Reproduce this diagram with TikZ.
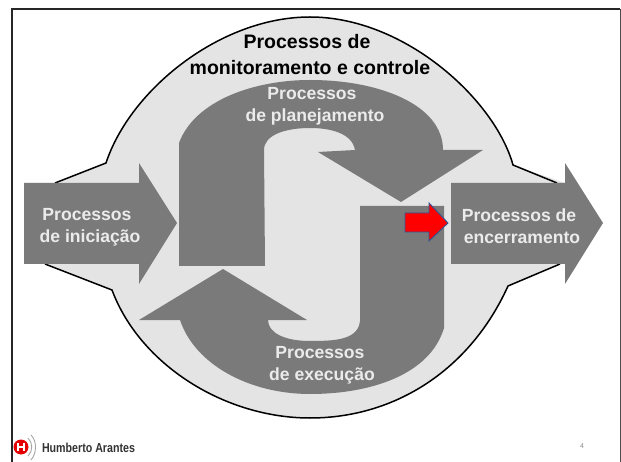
\documentclass[tikz,border=0pt]{standalone}
\usepackage{fontspec}
\setmainfont{Liberation Sans}
\definecolor{blobgray}{HTML}{E4E4E4}
\definecolor{arrowgray}{HTML}{7A7A7A}
\definecolor{labelgray}{HTML}{EBEBEB}
\definecolor{redblue}{HTML}{2F5597}
\tikzset{
  procshape/.style={fill=arrowgray, draw=none},
  proclabel/.style={text=labelgray, font=\fontsize{17.6}{17.6}\bfseries\selectfont, inner sep=0pt},
  toplabel/.style={text=black, font=\fontsize{19.5}{19.5}\bfseries\selectfont, inner sep=0pt}
}
\begin{document}
\begin{tikzpicture}[x=1pt, y=-1pt]
    \useasboundingbox (0,0) rectangle (621,462);
    \fill[white] (0,0) rectangle (621,462);

    % frame
    \draw[line width=2pt, color=black!85] (12,462) -- (12,9) -- (620,9);
    \draw[line width=1pt, color=black!70] (620,9) -- (620,462);

    % big blob
    \fill[blobgray]
    (24,183) -- (55,183) -- (106,163)
    .. controls (130,90) and (220,17) .. (310,17)
    .. controls (405,17) and (495,100) .. (513,165)
    -- (565,183) -- (565,264) -- (560,264) -- (508,286)
    .. controls (470,370) and (395,418) .. (310,418)
    .. controls (225,418) and (140,365) .. (112,290)
    -- (45,264) -- (24,264) -- cycle;
    \draw[line width=1.5pt, color=black]
    (55,183) -- (106,163)
    .. controls (130,90) and (220,17) .. (310,17)
    .. controls (405,17) and (495,100) .. (513,165)
    -- (557,183);
    \draw[line width=1.5pt, color=black]
    (45,264) -- (112,290)
    .. controls (140,365) and (225,418) .. (310,418)
    .. controls (395,418) and (470,370) .. (508,286)
    -- (560,264);

    % side arrows
    \fill[procshape] (24,183) -- (139,183) -- (139,163) -- (177,223) -- (139,284) -- (139,264) -- (24,264) -- cycle;
    \fill[procshape] (451,183) -- (565,183) -- (565,163) -- (603,223) -- (565,284) -- (565,264) -- (451,264) -- cycle;

    % planning arrow
    \fill[procshape] (179,266) -- (179,143)
    .. controls (195,100) and (255,80) .. (310,80)
    .. controls (380,80) and (443,105) .. (443,150)
    -- (483,150) -- (401,202) -- (318,152) -- (355,150)
    .. controls (352,133) and (330,128) .. (310,128)
    .. controls (285,128) and (264,135) .. (264,150)
    -- (265,266) -- cycle;

    % execution arrow
    \fill[procshape] (444,206) -- (444,328)
    .. controls (430,375) and (370,394) .. (310,394)
    .. controls (250,394) and (195,365) .. (180,320)
    -- (139,320) -- (223,269) -- (307,320) -- (268,320)
    .. controls (268,333) and (285,341) .. (310,341)
    .. controls (335,341) and (358,340) .. (360,321)
    -- (360,206) -- cycle;

    % red arrow
    \draw[line width=0.9pt, color=redblue, fill=red, line join=miter]
    (405,213) -- (429,213) -- (429,203) -- (448,223) -- (429,241) -- (429,232) -- (405,232) -- cycle;

    % labels
    \node[toplabel] (monitor1) at (307,42) {Processos de};
    \node[toplabel] (monitor2) at (310,68) {monitoramento e controle};
    \node[proclabel] (plan1) at (312,94) {Processos};
    \node[proclabel] (plan2) at (315,117) {de planejamento};
    \node[proclabel] (init1) at (87,215) {Processos};
    \node[proclabel] (init2) at (90,238) {de iniciação};
    \node[proclabel] (close1) at (519,215) {Processos de};
    \node[proclabel] (close2) at (522,238) {encerramento};
    \node[proclabel] (exec1) at (320,353) {Processos};
    \node[proclabel] (exec2) at (322,376) {de execução};

    % logo and page number
    \fill[red!90!black] (21,447) circle (7.5);
    \draw[white, line width=1.1pt] (18,443) -- (18,451) (24,443) -- (24,451) (18,447) -- (24,447);
    \draw[black!35, line width=0.9pt] (28,438) .. controls (33,443) and (33,451) .. (28,456);
    \draw[black!35, line width=0.9pt] (31,435) .. controls (37,441) and (37,453) .. (31,460);
    \node[inner sep=0pt, font=\fontsize{13}{13}\bfseries\selectfont, text=black!80, xscale=0.82] (brand) at (88.5,448) {Humberto Arantes};
    \node[inner sep=0pt, font=\fontsize{7}{7}\selectfont, text=black!45] (pagenum) at (582,446) {4};
\end{tikzpicture}
\end{document}
